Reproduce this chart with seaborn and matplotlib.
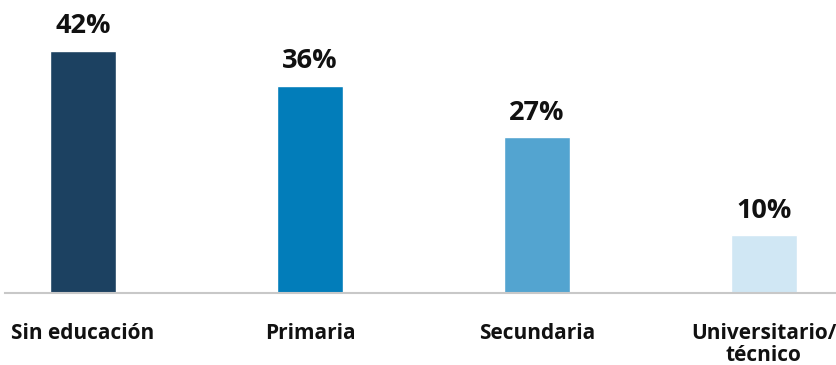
import matplotlib
matplotlib.use("Agg")
import matplotlib.pyplot as plt
import seaborn as sns
import pandas as pd

categories = ["Sin educación", "Primaria", "Secundaria", "Universitario/\ntécnico"]
values = [42, 36, 27, 10]
labels = ["42%", "36%", "27%", "10%"]
colors = ["#1c4161", "#027dba", "#53a4d0", "#d0e7f4"]

sns.set_theme(style="white")
plt.rcParams["font.family"] = ["Open Sans", "DejaVu Sans"]

df = pd.DataFrame({"cat": categories, "val": values})

fig = plt.figure(figsize=(8.37, 3.65), dpi=100)
ax = fig.add_axes([5 / 837, 72 / 365, 832 / 837, 293 / 365])
sns.barplot(data=df, x="cat", y="val", hue="cat", palette=colors,
            width=0.29, legend=False, ax=ax, saturation=1)

for i, (v, lab) in enumerate(zip(values, labels)):
    ax.text(i, v + 3.1, lab, ha="center", va="baseline", fontsize=19.5,
            fontweight="bold", color="#111111")

ax.set_xlim(-0.344, 3.322)
ax.set_ylim(0, 50.87)
ax.set_xlabel("")
ax.set_ylabel("")
ax.set_yticks([])
for s in ["top", "right", "left"]:
    ax.spines[s].set_visible(False)
ax.spines["bottom"].set_color("#c8c8c8")
ax.spines["bottom"].set_linewidth(1.5)
ax.tick_params(axis="x", length=0, pad=21.5)
for t in ax.get_xticklabels():
    t.set_fontsize(15)
    t.set_fontweight("bold")
    t.set_color("#111111")
    t.set_linespacing(1.1)
    t.set_verticalalignment("top")

fig.savefig("out.png", dpi=100)
